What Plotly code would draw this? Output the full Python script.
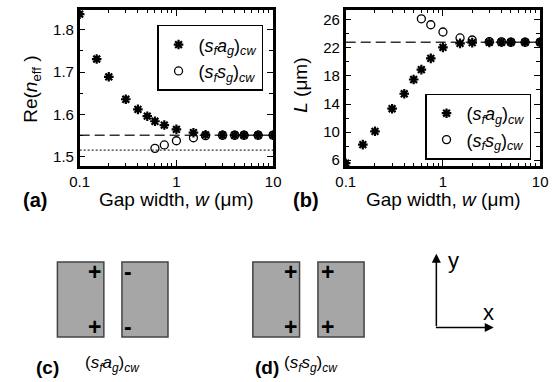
import plotly.graph_objects as go

# ---------------- data ----------------
gap_w_sfag = [0.1, 0.15, 0.2, 0.3, 0.4, 0.5, 0.6, 0.75, 1, 1.5, 2, 3, 4, 5, 7, 10]
neff_sfag = [1.837, 1.731, 1.689, 1.636, 1.612, 1.596, 1.584, 1.575, 1.565,
             1.557, 1.552, 1.551, 1.551, 1.551, 1.551, 1.551]
L_sfag = [5.57, 8.22, 10.11, 13.33, 15.46, 17.49, 18.9, 20.5, 22.07,
          22.64, 22.74, 22.78, 22.8, 22.8, 22.8, 22.8]

gap_w_sfsg = [0.6, 0.75, 1, 1.5, 2, 3, 4, 5, 7, 10]
neff_sfsg = [1.520, 1.528, 1.538, 1.545, 1.550, 1.551, 1.551, 1.551, 1.551, 1.551]
L_sfsg = [26.14, 25.29, 24.26, 23.41, 23.12, 22.9, 22.85, 22.8, 22.8, 22.8]

neff_limit = 1.551      # dashed line (a)
neff_lower = 1.516      # dotted line (a)
L_limit = 22.8          # dashed line (b)

x_tickvals = [0.1, 1, 10]
x_ticktext = ["0.1", "1", "10"]
x_minor = [0.2, 0.3, 0.4, 0.5, 0.6, 0.7, 0.8, 0.9, 2, 3, 4, 5, 6, 7, 8, 9]
neff_ticks = [1.5, 1.6, 1.7, 1.8]
L_ticks = [6, 10, 14, 18, 22, 26]

name_sfag = "(<i>s</i><sub><i>f</i></sub><i>a</i><sub><i>g</i></sub>)<sub><i>cw</i></sub>"
name_sfsg = "(<i>s</i><sub><i>f</i></sub><i>s</i><sub><i>g</i></sub>)<sub><i>cw</i></sub>"

# ---------------- layout helpers ----------------
W, H = 553, 382
FONT = "Liberation Sans, Arial, sans-serif"


def px(x):
    return x / W


def py(y):
    return 1 - y / H


fig = go.Figure()

star = dict(symbol="asterisk-open", size=8, color="black", line=dict(color="black", width=2.2))
circ = dict(symbol="circle-open", size=8, color="black", line=dict(color="black", width=1.3))

# panel (a)
fig.add_trace(go.Scatter(x=gap_w_sfag, y=neff_sfag, mode="markers", marker=star,
                         name=name_sfag, xaxis="x", yaxis="y", legend="legend"))
fig.add_trace(go.Scatter(x=gap_w_sfsg, y=neff_sfsg, mode="markers", marker=circ,
                         name=name_sfsg, xaxis="x", yaxis="y", legend="legend"))
# panel (b)
fig.add_trace(go.Scatter(x=gap_w_sfag, y=L_sfag, mode="markers", marker=star,
                         name=name_sfag, xaxis="x2", yaxis="y2", legend="legend2"))
fig.add_trace(go.Scatter(x=gap_w_sfsg, y=L_sfsg, mode="markers", marker=circ,
                         name=name_sfsg, xaxis="x2", yaxis="y2", legend="legend2"))

# reference lines
fig.add_shape(type="line", xref="x domain", yref="y", x0=0, x1=1, y0=neff_limit, y1=neff_limit,
              line=dict(color="#333", width=1.5, dash="10px,5px"), layer="below")
fig.add_shape(type="line", xref="x domain", yref="y", x0=0, x1=1, y0=neff_lower, y1=neff_lower,
              line=dict(color="#333", width=1.2, dash="2px,2px"), layer="below")
fig.add_shape(type="line", xref="x2 domain", yref="y2", x0=0, x1=1, y0=L_limit, y1=L_limit,
              line=dict(color="#333", width=1.5, dash="10px,5px"), layer="below")

axis_common = dict(showline=True, linewidth=2.5, linecolor="black", mirror="allticks",
                   ticks="inside", ticklen=6, tickwidth=1.2, tickcolor="black",
                   showgrid=False, zeroline=False,
                   tickfont=dict(family=FONT, size=15, color="black"))

xa = dict(axis_common, type="log", range=[-1, 1], tickvals=x_tickvals, ticktext=x_ticktext,
          minor=dict(tickvals=x_minor, ticks="inside", ticklen=3, tickwidth=1, tickcolor="black",
                     showgrid=False))

fig.update_layout(
    width=W, height=H, margin=dict(l=0, r=0, t=0, b=0),
    paper_bgcolor="white", plot_bgcolor="white",
    showlegend=True,
    font=dict(family=FONT, color="black"),
    xaxis=dict(xa, domain=[px(72), px(272)], anchor="y"),
    yaxis=dict(axis_common, domain=[py(167), py(10)], anchor="x", range=[1.478, 1.847],
               tickvals=neff_ticks, ticktext=["1.5", "1.6", "1.7", "1.8"],
               minor=dict(dtick=0.05, tick0=1.5, ticks="inside", ticklen=4, tickwidth=1,
                          tickcolor="black", showgrid=False)),
    xaxis2=dict(xa, domain=[px(347), px(548)], anchor="y2"),
    yaxis2=dict(axis_common, domain=[py(167), py(10)], anchor="x2", range=[5.15, 27.4],
                tickvals=L_ticks,
                minor=dict(dtick=2, tick0=6, ticks="inside", ticklen=4, tickwidth=1,
                           tickcolor="black", showgrid=False)),
    legend=dict(x=px(152), y=py(25), xanchor="left", yanchor="top",
                bordercolor="black", borderwidth=1.5, bgcolor="white",
                itemwidth=30, tracegroupgap=0,
                font=dict(family=FONT, size=18, color="black")),
    legend2=dict(x=px(429), y=py(94), xanchor="left", yanchor="top",
                 bordercolor="black", borderwidth=1.5, bgcolor="white",
                 itemwidth=30, tracegroupgap=0,
                 font=dict(family=FONT, size=18, color="black")),
)

ann = []


def text(x, y, s, size, bold=False, angle=0, xanchor="center"):
    if bold:
        s = "<b>" + s + "</b>"
    ann.append(dict(x=px(x), y=py(y), xref="paper", yref="paper", text=s, showarrow=False,
                    xanchor=xanchor, yanchor="middle", textangle=angle,
                    font=dict(family=FONT, size=size, color="black")))


# axis titles and panel labels
text(22, 90, "Re(<i>n</i><sub>eff</sub> )", 19, angle=-90)
text(300, 86, "<i>L</i> (μm)", 19, angle=-90)
text(172, 201, "Gap width, <i>w</i> (μm)", 19)
text(448, 201, "Gap width, <i>w</i> (μm)", 19)
text(26, 201, "(a)", 20, bold=True)
text(306, 201, "(b)", 20, bold=True)

# mode sketches
rect_fill = "#a6a6a6"
for x0, x1 in [(49, 97), (115.7, 163.3), (251, 299.3), (318.3, 366)]:
    fig.add_shape(type="rect", xref="paper", yref="paper", x0=px(x0), x1=px(x1),
                  y0=py(338.7), y1=py(263.3), fillcolor=rect_fill,
                  line=dict(color="#444", width=1.5))

for (x, s) in [(87.8, "+"), (122, "-"), (290, "+"), (328.3, "+")]:
    text(x, 273.5, s, 23, bold=True)
    text(x, 329, s, 23, bold=True)

text(38.5, 369, "(c)", 19, bold=True)
text(106, 366, name_sfag, 17)
text(266, 369, "(d)", 19, bold=True)
text(311, 366, name_sfsg, 17)

# coordinate arrows
ann.append(dict(x=px(440.7), y=py(255), xref="paper", yref="paper", ax=0, ay=74,
                showarrow=True, arrowhead=2, arrowsize=1.2, arrowwidth=1.5, arrowcolor="black",
                text=""))
ann.append(dict(x=px(500), y=py(329.3), xref="paper", yref="paper", ax=-59.3, ay=0,
                showarrow=True, arrowhead=2, arrowsize=1.2, arrowwidth=1.5, arrowcolor="black",
                text=""))
text(458, 262, "y", 22)
text(495, 314, "x", 22)

fig.update_layout(annotations=ann)

fig.write_html("out.html", config={"displayModeBar": False},
               post_script="document.body.style.margin='0';")
